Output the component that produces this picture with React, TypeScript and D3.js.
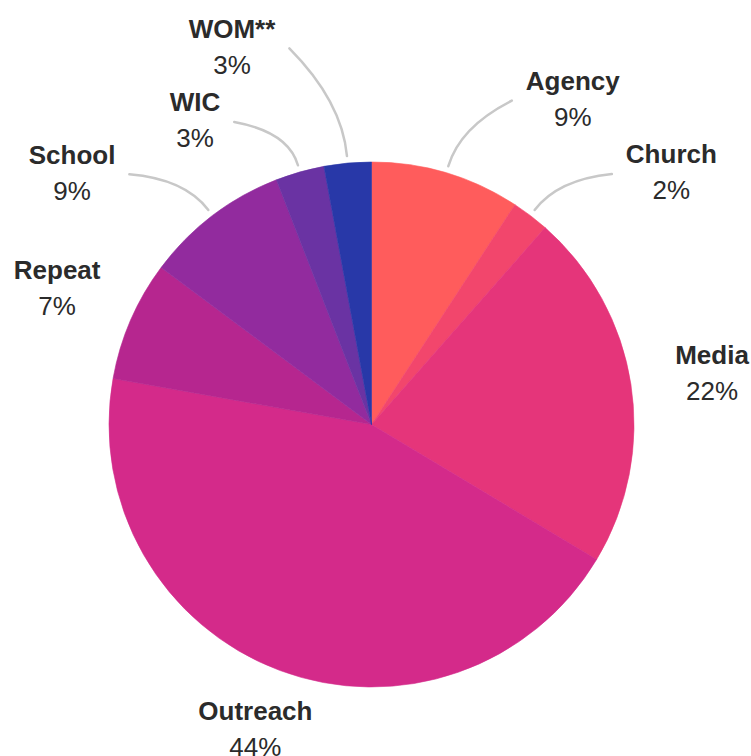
import React, { useEffect, useRef } from "react";
import * as d3 from "d3";

// ---- data ----
const categories = ["Agency", "Church", "Media", "Outreach", "Repeat", "School", "WIC", "WOM**"];
const shares = [9.2, 2.3, 22.1, 44.2, 7.4, 8.9, 3.0, 2.9];
const percentLabels = ["9%", "2%", "22%", "44%", "7%", "9%", "3%", "3%"];

// ---- style / layout ----
const colors = ["#ff5c5c", "#f2466c", "#e5357a", "#d42a8a", "#b6268f", "#922b9e", "#6a33a3", "#2838a8"];
const labelAngles = [31.7, 49.9, 81.3, 200.9, 293.5, 310.1, 329.9, 339.75];
const labelDists = [383, 392, 344.5, 325.5, 342.8, 391.5, 352, 403];
const leaderLines = [true, true, false, false, false, true, true, true];

const W = 751;
const H = 756;
const CX = 371.5;
const CY = 424.5;
const R = 262.5;
const FONT = "'Liberation Sans', Arial, Helvetica, sans-serif";

export default function App() {
  const ref = useRef<SVGSVGElement | null>(null);

  useEffect(() => {
    const svg = d3.select(ref.current);
    svg.selectAll("*").remove();
    const g = svg.append("g").attr("transform", `translate(${CX},${CY})`);

    const pie = d3.pie<number>().sort(null).value((d) => d);
    const arcs = pie(shares);
    const arc = d3.arc<d3.PieArcDatum<number>>().innerRadius(0).outerRadius(R);

    g.selectAll("path.slice")
      .data(arcs)
      .enter()
      .append("path")
      .attr("class", "slice")
      .attr("d", arc)
      .attr("fill", (_, i) => colors[i])
      .attr("stroke", (_, i) => colors[i])
      .attr("stroke-width", 0.6)
      .attr("stroke-linejoin", "round");

    const labels = g.append("g");
    const lines = g.append("g");

    arcs.forEach((a, i) => {
      const la = (labelAngles[i] * Math.PI) / 180;
      const lx = labelDists[i] * Math.sin(la);
      const ly = -labelDists[i] * Math.cos(la);
      const lg = labels.append("g");
      const name = lg
        .append("text")
        .attr("x", lx)
        .attr("y", ly - 8.7)
        .attr("text-anchor", "middle")
        .attr("font-family", FONT)
        .attr("font-size", 26)
        .attr("font-weight", "bold")
        .attr("fill", "#2b2b2b")
        .text(categories[i]);
      lg.append("text")
        .attr("x", lx)
        .attr("y", ly + 27.3)
        .attr("text-anchor", "middle")
        .attr("font-family", FONT)
        .attr("font-size", 26)
        .attr("fill", "#2b2b2b")
        .text(percentLabels[i]);

      if (leaderLines[i]) {
        const nw = (name.node() as SVGTextElement).getComputedTextLength();
        const mid = (a.startAngle + a.endAngle) / 2;
        const dx = Math.sin(mid);
        const dy = -Math.cos(mid);
        const sx = (R + 7) * dx;
        const sy = (R + 7) * dy;
        const ex = lx > 0 ? lx - nw / 2 - 14 : lx + nw / 2 + 14;
        const ey = ly + 2;
        const reach = Math.min(55, 0.45 * Math.hypot(ex - sx, ey - sy));
        const cx = sx + reach * dx;
        const cy = sy + reach * dy;
        const p = d3.path();
        p.moveTo(sx, sy);
        p.quadraticCurveTo(cx, cy, ex, ey);
        lines
          .append("path")
          .attr("d", p.toString())
          .attr("fill", "none")
          .attr("stroke", "#c8c8c8")
          .attr("stroke-width", 2.5)
          .attr("stroke-linecap", "round");
      }
    });
  }, []);

  return (
    <svg
      ref={ref}
      width={W}
      height={H}
      style={{ position: "absolute", left: 0, top: 0, background: "#fff" }}
    />
  );
}
